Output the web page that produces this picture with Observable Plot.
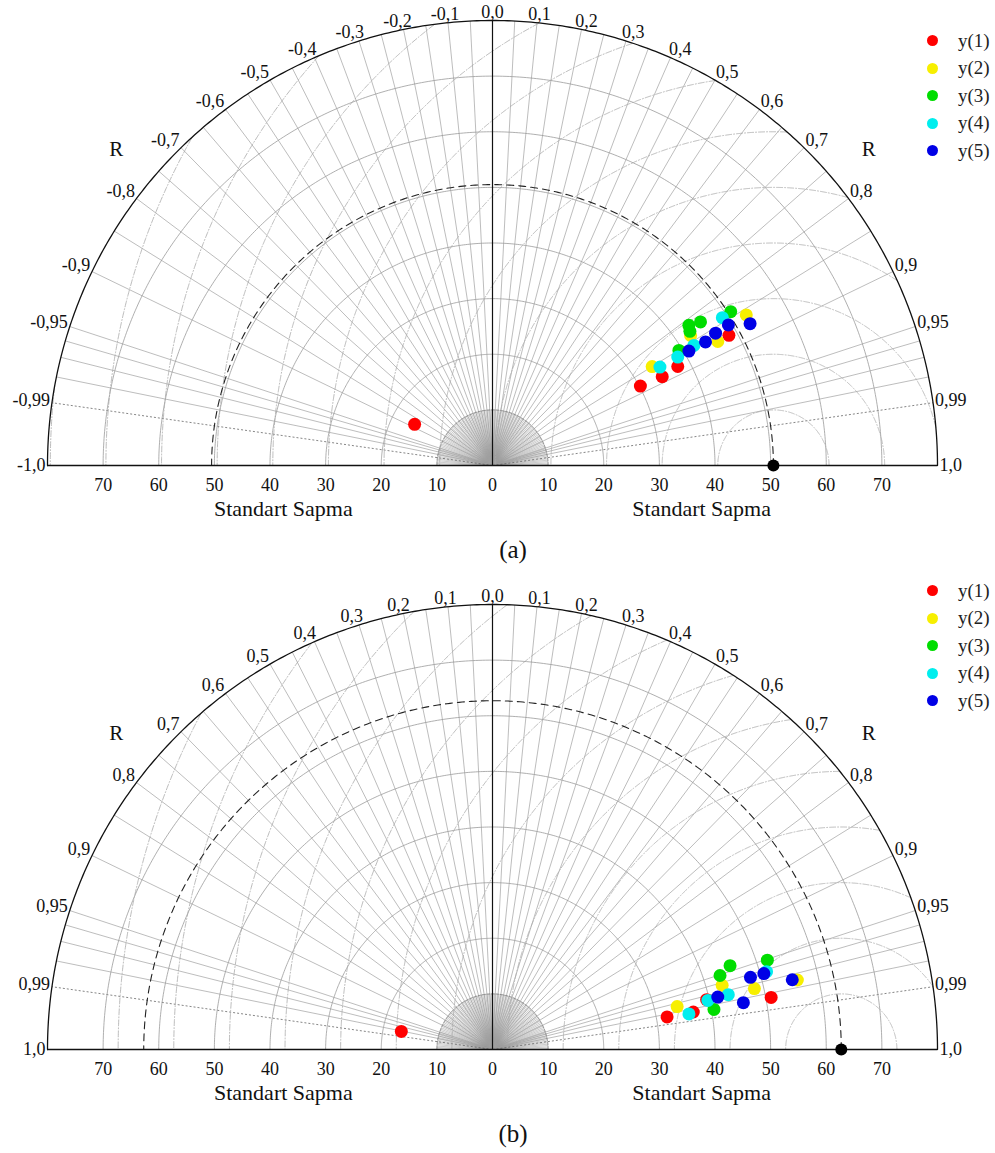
<!DOCTYPE html>
<html><head><meta charset="utf-8">
<script src="https://cdn.jsdelivr.net/npm/d3@7"></script>
<script src="https://cdn.jsdelivr.net/npm/@observablehq/plot@0.6"></script>
<style>
body{margin:0;background:#fff;font-family:"Liberation Serif","Times New Roman",serif;}
#wrap{position:relative;width:995px;}
.block{position:relative;width:995px;height:584px;}
.block svg{display:block;}
.caption{position:relative;height:54px;}
.caption span{position:absolute;left:513px;top:0;transform:translateX(-50%);font-size:25px;line-height:39px;color:#111;}
.legend{position:absolute;left:920px;font-size:19px;color:#222;}
.legend .row{height:27.5px;display:flex;align-items:center;}
.legend .sw{width:11px;height:11px;border-radius:50%;margin-left:6.5px;margin-right:20.5px;}
</style></head><body>
<div id="wrap"></div>
<script>
// ---------------- data ----------------
const seriesNames = ["y(1)", "y(2)", "y(3)", "y(4)", "y(5)"];
const seriesColors = ["#ff0000", "#f7ef00", "#00dd00", "#00eeee", "#0000e6"];
const corrTicks = [0, 0.1, 0.2, 0.3, 0.4, 0.5, 0.6, 0.7, 0.8, 0.9, 0.95, 0.99, 1];
const corrLabelsPos = ["0,0","0,1","0,2","0,3","0,4","0,5","0,6","0,7","0,8","0,9","0,95","0,99","1,0"];
const corrLabelsNegA = ["-0,1","-0,2","-0,3","-0,4","-0,5","-0,6","-0,7","-0,8","-0,9","-0,95","-0,99","-1,0"];
const corrLabelsNegB = ["0,1","0,2","0,3","0,4","0,5","0,6","0,7","0,8","0,9","0,95","0,99","1,0"];
const stdTicks = [0, 10, 20, 30, 40, 50, 60, 70];
const stdMax = 80;
const refStdA = 50.5;
const refStdB = 62.7;
// panel (a): standard deviation and correlation per series
const stdA = [
  [30.18, 34.44, 37.76, 48.52, 15.84],
  [33.77, 46.23, 53.05, 42.60],
  [39.38, 43.37, 42.91, 45.44, 50.98],
  [34.92, 38.59, 42.15, 49.13],
  [40.87, 44.27, 46.63, 49.37, 52.86]
];
const corrA = [
  [0.881, 0.886, 0.882, 0.876, -0.884],
  [0.850, 0.876, 0.860, 0.836],
  [0.851, 0.814, 0.827, 0.823, 0.840],
  [0.862, 0.863, 0.859, 0.841],
  [0.864, 0.865, 0.860, 0.859, 0.876]
];
// panel (b)
const stdB = [
  [31.93, 36.72, 39.52, 50.96, 16.71],
  [34.08, 42.87, 48.34, 56.21],
  [40.46, 43.01, 45.29, 51.96],
  [35.89, 39.71, 43.52, 51.22],
  [41.58, 45.88, 48.16, 50.66, 55.33]
];
const corrB = [
  [0.983, 0.983, 0.974, 0.983, -0.981],
  [0.974, 0.963, 0.974, 0.975],
  [0.984, 0.951, 0.943, 0.951],
  [0.984, 0.975, 0.974, 0.962],
  [0.974, 0.983, 0.963, 0.963, 0.974]
];

// ---------------- drawing ----------------
const W = 995, H = 530, ML = 47, MR = 58, MT = 20, MB = 65;
const PX = (W - ML - MR) / (2 * stdMax);
const FS = 18;
const FONT = "Liberation Serif, Times New Roman, serif";

function toXY(s, r) {
  const a = Math.acos(Math.max(-1, Math.min(1, r)));
  return [s * Math.cos(a), s * Math.sin(a)];
}
function arcPts(rad, key, n = 360) {
  return d3.range(0, n + 1).map(k => {
    const t = Math.PI * k / n;
    return {k: key, x: rad * Math.cos(t), y: rad * Math.sin(t)};
  });
}
function corrLabelRows(ticks, labels, sign) {
  return ticks.map((t, i) => {
    const r = sign * t;
    const th = Math.acos(r);
    const c = Math.cos(th), s = Math.sin(th);
    const txt = labels[i];
    const w = [...txt].reduce((a, ch) => a + (ch === "-" ? 0.333 : ch === "," ? 0.25 : 0.5), 0) * FS;
    const hw = w / 2, hh = 6.5, g = 2;
    const dx = Math.sign(c) * Math.min(1, Math.abs(c) * 2) * hw + g * c;
    const dy = hh * Math.min(1, s * 2) + g * s;
    return {x: stdMax * c + dx / PX, y: stdMax * s + dy / PX, t: txt};
  });
}

function makePanel(std, corr, refStd, leftLabels) {
  const pts = [];
  std.forEach((arr, i) => arr.forEach((s, j) => {
    const [x, y] = toXY(s, corr[i][j]);
    pts.push({series: seriesNames[i], x, y});
  }));
  const stdArcs = stdTicks.filter(s => s > 10).flatMap(s => arcPts(s, s));
  const rms = d3.range(10, 140, 10).flatMap(rr => d3.range(0, 1441).map(k => {
    const t = Math.PI * k / 1440;
    const x = refStd + rr * Math.cos(t), y = rr * Math.sin(t);
    const ok = x * x + y * y <= stdMax * stdMax;
    return {k: rr, x: ok ? x : NaN, y: ok ? y : NaN};
  }));
  const radialVals = [];
  for (let i = -19; i <= 19; i++) if (i !== 0) radialVals.push(+(i * 0.05).toFixed(2));
  [0.96, 0.97, 0.98].forEach(v => { radialVals.push(v); radialVals.push(-v); });
  const radial = radialVals.map(r => { const [x, y] = toXY(stdMax, r); return {x, y}; });
  const dotted = [0.99, -0.99].map(r => { const [x, y] = toXY(stdMax, r); return {x, y}; });
  const fan = d3.range(1, 180, 1.5).map(d => {
    const t = d * Math.PI / 180;
    return {x: 10 * Math.cos(t), y: 10 * Math.sin(t)};
  });
  const rightL = corrLabelRows(corrTicks, corrLabelsPos, 1);
  const leftL = corrLabelRows(corrTicks.slice(1), leftLabels, -1);
  const stdTickRows = stdTicks.flatMap(s => s === 0 ? [{x: 0, t: "0"}] : [{x: s, t: String(s)}, {x: -s, t: String(s)}]);
  const stdLabelY = -3.6;
  const axisTitleY = -7.73;
  const axisTitles = [{x: -37.6, t: "Standart Sapma"}, {x: 37.6, t: "Standart Sapma"}];
  const [rx, ry] = toXY(88.3, 0.766);
  const rLabels = [{x: -rx, y: ry, t: "R"}, {x: rx, y: ry, t: "R"}];

  return Plot.plot({
    width: W, height: H,
    marginLeft: ML, marginRight: MR, marginTop: MT, marginBottom: MB,
    x: {domain: [-stdMax, stdMax], axis: null},
    y: {domain: [0, stdMax], axis: null},
    color: {domain: seriesNames, range: seriesColors},
    style: {fontFamily: FONT, background: "white", overflow: "visible"},
    marks: [
      Plot.link(fan, {x1: 0, y1: 0, x2: "x", y2: "y", stroke: "#8a8a8a", strokeWidth: 0.45}),
      Plot.link(radial, {x1: 0, y1: 0, x2: "x", y2: "y", stroke: "#a0a0a0", strokeWidth: 0.7}),
      Plot.link(dotted, {x1: 0, y1: 0, x2: "x", y2: "y", stroke: "#666", strokeWidth: 0.8, strokeDasharray: "2,2"}),
      Plot.line(stdArcs, {x: "x", y: "y", z: "k", stroke: "#9a9a9a", strokeWidth: 0.8}),
      Plot.line(arcPts(10, 10), {x: "x", y: "y", stroke: "#777", strokeWidth: 0.9, strokeDasharray: "3,1.5"}),
      Plot.line(rms, {x: "x", y: "y", z: "k", stroke: "#aaaaaa", strokeWidth: 0.8, strokeDasharray: "6,2,1,2"}),
      Plot.line(arcPts(refStd, 0), {x: "x", y: "y", stroke: "#222", strokeWidth: 1.1, strokeDasharray: "7,5"}),
      Plot.line(arcPts(stdMax, 0), {x: "x", y: "y", stroke: "#111", strokeWidth: 1.3}),
      Plot.ruleY([0], {x1: -stdMax, x2: stdMax, stroke: "#111", strokeWidth: 1.4}),
      Plot.ruleX([0], {y1: 0, y2: stdMax, stroke: "#111", strokeWidth: 1.2}),
      Plot.text(rightL, {x: "x", y: "y", text: "t", fontSize: FS, fill: "#111"}),
      Plot.text(leftL, {x: "x", y: "y", text: "t", fontSize: FS, fill: "#111"}),
      Plot.text(stdTickRows, {x: "x", y: stdLabelY, text: "t", fontSize: FS, fill: "#111"}),
      Plot.text(axisTitles, {x: "x", y: axisTitleY, text: "t", fontSize: 22, fill: "#111"}),
      Plot.text(rLabels, {x: "x", y: "y", text: "t", fontSize: 21, fill: "#111"}),
      Plot.dot(pts, {x: "x", y: "y", fill: "series", r: 6.5}),
      Plot.dot([{x: refStd, y: 0}], {x: "x", y: "y", fill: "#000", r: 6})
    ]
  });
}

function legendEl(top) {
  const lg = document.createElement("div");
  lg.className = "legend";
  lg.style.top = top + "px";
  seriesNames.forEach((n, i) => {
    const row = document.createElement("div");
    row.className = "row";
    const sw = document.createElement("span");
    sw.className = "sw";
    sw.style.background = seriesColors[i];
    const tx = document.createElement("span");
    tx.textContent = n;
    row.appendChild(sw); row.appendChild(tx);
    lg.appendChild(row);
  });
  return lg;
}

const wrap = document.getElementById("wrap");
const panels = [
  {std: stdA, corr: corrA, ref: refStdA, left: corrLabelsNegA, cap: "(a)", legendTop: 27},
  {std: stdB, corr: corrB, ref: refStdB, left: corrLabelsNegB, cap: "(b)", legendTop: -7}
];
panels.forEach(p => {
  const block = document.createElement("div");
  block.className = "block";
  block.appendChild(makePanel(p.std, p.corr, p.ref, p.left));
  const cap = document.createElement("div");
  cap.className = "caption";
  const cs = document.createElement("span");
  cs.textContent = p.cap;
  cap.appendChild(cs);
  block.appendChild(cap);
  block.appendChild(legendEl(p.legendTop));
  wrap.appendChild(block);
});
</script>
</body></html>
